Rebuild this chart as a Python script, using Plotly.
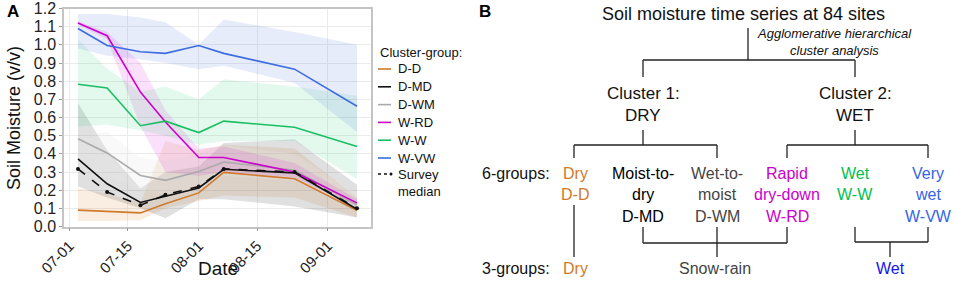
import plotly.graph_objects as go

W, H = 957, 282

# ---------------- data ----------------
dates = ["2019-07-03", "2019-07-10", "2019-07-18", "2019-07-24",
         "2019-08-01", "2019-08-07", "2019-08-24", "2019-09-08"]

groups = ["D-D", "D-MD", "D-WM", "W-RD", "W-W", "W-VW"]

dd_mid = [0.090, 0.082, 0.075, 0.125, 0.185, 0.298, 0.263, 0.088]
dd_hi = [0.21, 0.18, 0.13, 0.47, 0.42, 0.45, 0.43, 0.16]
dd_lo = [0.03, 0.03, 0.035, 0.10, 0.14, 0.17, 0.16, 0.05]

dmd_mid = [0.372, 0.235, 0.132, 0.165, 0.212, 0.315, 0.295, 0.095]
dmd_hi = [0.68, 0.42, 0.21, 0.30, 0.33, 0.46, 0.48, 0.23]
dmd_lo = [0.22, 0.16, 0.10, 0.045, 0.15, 0.15, 0.11, 0.05]

dwm_mid = [0.483, 0.405, 0.281, 0.254, 0.303, 0.355, 0.31, 0.12]
dwm_hi = [0.50, 0.52, 0.38, 0.36, 0.40, 0.45, 0.40, 0.18]
dwm_lo = [0.30, 0.28, 0.20, 0.18, 0.20, 0.28, 0.25, 0.08]

wrd_mid = [1.12, 1.05, 0.74, 0.575, 0.38, 0.38, 0.30, 0.13]
wrd_hi = [1.13, 1.07, 0.90, 0.64, 0.43, 0.44, 0.35, 0.15]
wrd_lo = [1.11, 1.03, 0.55, 0.30, 0.28, 0.30, 0.27, 0.11]

ww_mid = [0.783, 0.762, 0.555, 0.58, 0.517, 0.58, 0.546, 0.44]
ww_hi = [1.03, 0.87, 0.74, 0.77, 0.70, 0.81, 0.77, 0.72]
ww_lo = [0.55, 0.56, 0.53, 0.50, 0.45, 0.47, 0.47, 0.26]

wvw_mid = [1.09, 0.996, 0.962, 0.953, 0.996, 0.953, 0.866, 0.662]
wvw_hi = [1.17, 1.17, 1.15, 1.125, 1.00, 1.14, 1.07, 1.00]
wvw_lo = [0.98, 0.94, 0.92, 0.90, 0.865, 0.885, 0.79, 0.52]

survey_median = [0.317, 0.19, 0.117, 0.175, 0.22, 0.317, 0.30, 0.10]

x_tickvals = ["2019-07-01", "2019-07-15", "2019-08-01", "2019-08-15", "2019-09-01"]
x_ticktext = ["07-01", "07-15", "08-01", "08-15", "09-01"]
y_tickvals = [i / 10 for i in range(13)]
y_ticktext = ["%.1f" % v for v in y_tickvals]

line_colors = ["#D07A2C", "#111111", "#AAAAAA", "#CC00CC", "#19BF62", "#3D6CE0"]
band_colors = ["rgba(215,125,40,0.13)", "rgba(0,0,0,0.12)", "rgba(230,230,230,0.25)",
               "rgba(215,0,215,0.12)", "rgba(30,205,110,0.12)", "rgba(60,100,225,0.12)"]

mids = [dd_mid, dmd_mid, dwm_mid, wrd_mid, ww_mid, wvw_mid]
his = [dd_hi, dmd_hi, dwm_hi, wrd_hi, ww_hi, wvw_hi]
los = [dd_lo, dmd_lo, dwm_lo, wrd_lo, ww_lo, wvw_lo]

FONT = "Liberation Sans, Arial, sans-serif"


def X(px):
    return px / W


def Y(py):
    return 1 - py / H


fig = go.Figure()

# bands
for g, hi, lo, fc in zip(groups, his, los, band_colors):
    fig.add_trace(go.Scatter(
        x=dates + dates[::-1], y=hi + lo[::-1], fill="toself", fillcolor=fc,
        line=dict(width=0), mode="lines", hoverinfo="skip", showlegend=False, name=g))

# lines
for g, m, c in zip(groups, mids, line_colors):
    fig.add_trace(go.Scatter(x=dates, y=m, mode="lines", line=dict(color=c, width=1.6),
                             showlegend=False, name=g))

fig.add_trace(go.Scatter(x=dates, y=survey_median, mode="lines+markers",
                         line=dict(color="#111111", width=1.6, dash="dash"),
                         marker=dict(size=4, color="#111111"), showlegend=False,
                         name="Survey median"))

fig.update_xaxes(
    type="date", domain=[X(64), X(371)], automargin=False,
    range=["2019-06-29 15:36", "2019-09-11 08:24"],
    tickvals=x_tickvals, ticktext=x_ticktext, tickangle=-45,
    tickfont=dict(size=15, color="#222", family=FONT),
    showgrid=True, gridcolor="#EBEBEB", gridwidth=1,
    showline=True, linecolor="#C4C4C4", linewidth=1.5, mirror=True,
    ticks="outside", ticklen=3, tickcolor="#999", zeroline=False)

fig.update_yaxes(
    domain=[Y(226.5), Y(8.5)], range=[0, 1.2], automargin=False,
    tickvals=y_tickvals, ticktext=y_ticktext,
    tickfont=dict(size=16, color="#222", family=FONT),
    showgrid=True, gridcolor="#EBEBEB", gridwidth=1,
    showline=True, linecolor="#C4C4C4", linewidth=1.5, mirror=True,
    ticks="outside", ticklen=3, tickcolor="#999", zeroline=False)

ann = []
shapes = []


def text(x, y, s, size, color="#111", anchor="center", bold=False, italic=False, angle=0):
    if bold:
        s = "<b>" + s + "</b>"
    if italic:
        s = "<i>" + s + "</i>"
    ann.append(dict(x=X(x), y=Y(y), xref="paper", yref="paper", text=s, showarrow=False,
                    xanchor=anchor, yanchor="middle", textangle=angle,
                    font=dict(size=size, color=color, family=FONT)))


def seg(x0, y0, x1, y1, color="#222", width=1.3, dash=None):
    d = dict(type="line", xref="paper", yref="paper", x0=X(x0), y0=Y(y0), x1=X(x1), y1=Y(y1),
             line=dict(color=color, width=width))
    if dash:
        d["line"]["dash"] = dash
    shapes.append(d)


# panel labels and axis titles
text(13, 12, "A", 17, "#000", bold=True)
text(485, 12, "B", 17, "#000", bold=True)
text(14, 118, "Soil Moisture (v/v)", 18, "#111", angle=-90)
text(218, 268, "Date", 19, "#111")

# legend
text(378, 52, "Cluster-group:", 13, "#111", anchor="left")
for i, (g, c) in enumerate(zip(groups, line_colors)):
    yy = 69 + i * 17.8
    seg(378, yy, 391, yy, color=c, width=1.6)
    text(396, yy, g, 13, "#111", anchor="left")
seg(378, 174, 390, 174, color="#111", width=1.4, dash="dot")
shapes.append(dict(type="circle", xref="paper", yref="paper",
                   x0=X(389.5), x1=X(392.5), y0=Y(175.5), y1=Y(172.5),
                   fillcolor="#111", line=dict(width=0)))
text(396, 174, "Survey", 13, "#111", anchor="left")
text(396, 191, "median", 13, "#111", anchor="left")

# ---------------- panel B tree ----------------
text(743, 14, "Soil moisture time series at 84 sites", 18, "#111")
text(834, 33, "Agglomerative hierarchical", 13, "#111", italic=True)
text(834, 50, "cluster analysis", 13, "#111", italic=True)
text(643, 93, "Cluster 1:", 17, "#111")
text(643, 115, "DRY", 17, "#111")
text(855, 93, "Cluster 2:", 17, "#111")
text(855, 115, "WET", 17, "#111")

seg(748, 28, 748, 60)
seg(643, 60, 855, 60)
seg(643, 60, 643, 77)
seg(855, 60, 855, 77)
seg(643, 130, 643, 145)
seg(574, 145, 717, 145)
seg(574, 145, 574, 158)
seg(717, 145, 717, 158)
seg(855, 130, 855, 145)
seg(787, 145, 928, 145)
seg(787, 145, 787, 158)
seg(928, 145, 928, 158)
seg(574, 205, 574, 257)
seg(643, 227, 643, 243)
seg(643, 243, 787, 243)
seg(787, 227, 787, 243)
seg(717, 227, 717, 257)
seg(855, 227, 855, 242)
seg(855, 242, 928, 242)
seg(928, 227, 928, 242)
seg(890, 242, 890, 257)

text(552, 173, "6-groups:", 16, "#111", anchor="right")
text(552, 268, "3-groups:", 16, "#111", anchor="right")

cols = [
    (575, ["Dry", "D-D"], "#D07A2C"),
    (643, ["Moist-to-", "dry", "D-MD"], "#000000"),
    (717, ["Wet-to-", "moist", "D-WM"], "#444444"),
    (787, ["Rapid", "dry-down", "W-RD"], "#CC00CC"),
    (855, ["Wet", "W-W"], "#00BF4F"),
    (928, ["Very", "wet", "W-VW"], "#3366E6"),
]
for cx, lines, col in cols:
    for j, s in enumerate(lines):
        text(cx, 173 + j * 21.5, s, 16, col)

text(575, 268, "Dry", 16, "#D07A2C")
text(715, 268, "Snow-rain", 16, "#444444")
text(890, 268, "Wet", 16, "#1414F0")

fig.update_layout(
    width=W, height=H, margin=dict(l=0, r=0, t=0, b=0, autoexpand=False),
    paper_bgcolor="white", plot_bgcolor="white",
    showlegend=False, annotations=ann, shapes=shapes,
    font=dict(family=FONT))

fig.write_html("out.html", config={"displayModeBar": False},
               post_script="document.body.style.margin='0';document.body.style.overflow='hidden';")
